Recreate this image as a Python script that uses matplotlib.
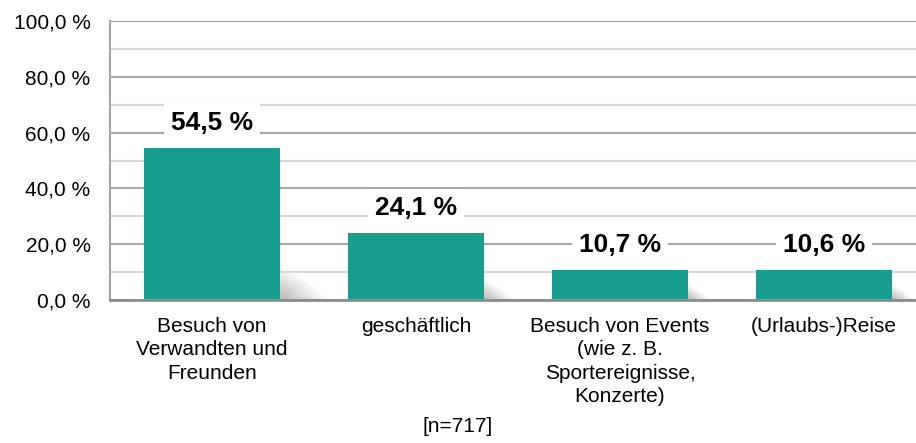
import matplotlib
matplotlib.use("Agg")
import matplotlib.pyplot as plt
from matplotlib.patches import Polygon
import numpy as np

categories = ["Besuch von\nVerwandten und\nFreunden", "geschäftlich",
              "Besuch von Events\n(wie z. B.\nSportereignisse,\nKonzerte)", "(Urlaubs-)Reise"]
values = [54.5, 24.1, 10.7, 10.6]
value_labels = ["54,5 %", "24,1 %", "10,7 %", "10,6 %"]
yticks = [0, 20, 40, 60, 80, 100]
ytick_labels = ["0,0 %", "20,0 %", "40,0 %", "60,0 %", "80,0 %", "100,0 %"]
note = "[n=717]"

plt.rcParams['font.family'] = ['Liberation Sans', 'DejaVu Sans']

fig = plt.figure(figsize=(9.16, 4.43), dpi=100)
ax = fig.add_axes([110/916, 1-300/443, 806/916, 279/443])

bar_color = "#189e8e"
x = np.arange(len(values))
width = 0.667

# soft shadows to the lower right of each bar (drawn below the gridlines)
n_layers = 24
for xi, v in zip(x, values):
    right = xi + width/2
    length = 0.08 + v * 0.003
    h = 4 + v * 0.16
    for k in range(n_layers):
        s = 1 - k/n_layers
        poly = Polygon([(right, 0), (right, h*s), (right + length*0.55*s, h*0.55*s),
                        (right + length*s, 0)],
                       closed=True, facecolor="black", alpha=0.010, edgecolor="none", zorder=0.5)
        ax.add_patch(poly)

ax.bar(x, values, width=width, color=bar_color, zorder=3)

for xi, v, lab in zip(x, values, value_labels):
    ax.annotate(lab, (xi, v), xytext=(0, 18), textcoords="offset points",
                ha="center", va="center", fontsize=19, fontweight="bold", color="black",
                bbox=dict(boxstyle="square,pad=0.25", fc="white", ec="none"), zorder=5)

ax.set_xlim(-0.5, -0.5 + 806/204)
ax.set_ylim(0, 100)
ax.set_yticks(yticks)
ax.set_yticklabels(ytick_labels, fontsize=15)
ax.set_yticks([10, 30, 50, 70, 90], minor=True)
ax.set_axisbelow(False)
ax.grid(axis="y", which="major", color="#a6a6a6", linewidth=1.5, zorder=1)
ax.grid(axis="y", which="minor", color="#d9d9d9", linewidth=1.5, zorder=1)
for gl in ax.yaxis.get_gridlines() + ax.yaxis.get_minorticklines():
    gl.set_zorder(1)
ax.tick_params(axis="y", which="both", length=0, pad=14)
ax.set_xticks(x)
ax.set_xticklabels(categories, fontsize=15, linespacing=1.3, va="top")
ax.tick_params(axis="x", length=0, pad=12)

for s in ["top", "right"]:
    ax.spines[s].set_visible(False)
ax.spines["left"].set_color("#a6a6a6")
ax.spines["left"].set_linewidth(1.5)
ax.spines["bottom"].set_color("#8c8c8c")
ax.spines["bottom"].set_linewidth(2)
ax.spines["left"].set_zorder(4)
ax.spines["bottom"].set_zorder(4)

fig.text(458/916, 1-426/443, note, ha="center", va="center", fontsize=15)

fig.savefig("out.png", dpi=100)
